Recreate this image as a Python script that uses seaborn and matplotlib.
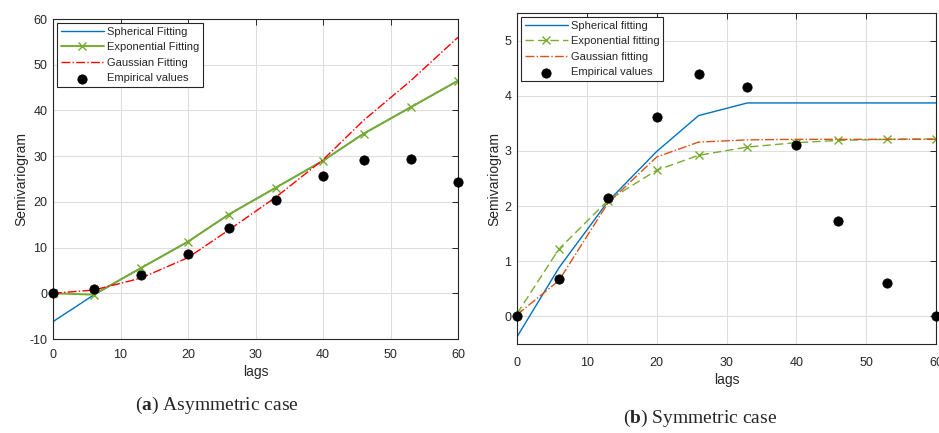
import matplotlib
matplotlib.use("Agg")
import matplotlib.pyplot as plt
import seaborn as sns
import pandas as pd

lags = [0, 6, 13, 20, 26, 33, 40, 46, 53, 60]

# (a) Asymmetric case
a_spherical = [-6.2, -0.4, 5.5, 11.3, 17.2, 23.1, 29.0, 34.9, 40.7, 46.5]
a_exponential = [0.0, -0.3, 5.5, 11.3, 17.2, 23.1, 29.0, 34.9, 40.7, 46.5]
a_gaussian = [0.0, 0.7, 3.3, 7.8, 13.8, 21.0, 29.2, 37.8, 46.5, 56.0]
a_empirical = [0.0, 1.0, 4.0, 8.5, 14.2, 20.3, 25.7, 29.2, 29.4, 24.3]

# (b) Symmetric case
b_spherical = [-0.37, 0.88, 2.08, 2.99, 3.64, 3.87, 3.87, 3.87, 3.87, 3.87]
b_exponential = [0.05, 1.22, 2.10, 2.65, 2.92, 3.07, 3.15, 3.19, 3.21, 3.22]
b_gaussian = [0.03, 0.65, 2.05, 2.89, 3.16, 3.20, 3.21, 3.21, 3.21, 3.21]
b_empirical = [0.0, 0.67, 2.15, 3.62, 4.39, 4.15, 3.10, 1.73, 0.60, 0.0]

a_labels = ["Spherical Fitting", "Exponential Fitting", "Gaussian Fitting", "Empirical values"]
b_labels = ["Spherical fitting", "Exponential fitting", "Gaussian fitting", "Empirical values"]

sns.set_style("white")
plt.rcParams['font.family'] = ['Liberation Sans', 'DejaVu Sans']
plt.rcParams['axes.unicode_minus'] = False
plt.rcParams['mathtext.fontset'] = 'custom'
plt.rcParams['mathtext.rm'] = 'Liberation Serif'
plt.rcParams['mathtext.bf'] = 'Liberation Serif:bold'

BLUE = "#0072BD"
GREEN = "#77AC30"
AXC = "#262626"

fig = plt.figure(figsize=(9.39, 4.33), dpi=100)
axA = fig.add_axes([53/939, 1-339/433, 405/939, 320/433])
axB = fig.add_axes([517/939, 1-344/433, 419/939, 331/433])


def style(ax, pad_x):
    ax.grid(True, color="#dedede", linewidth=0.8)
    ax.set_axisbelow(True)
    for s in ax.spines.values():
        s.set_color(AXC)
        s.set_linewidth(0.8)
        s.set_visible(True)
    ax.tick_params(direction="in", top=True, right=True, length=4, width=0.7,
                   colors=AXC, labelsize=9, labelcolor=AXC)
    ax.tick_params(axis="x", pad=pad_x)
    ax.tick_params(axis="y", pad=4)


def legend(ax):
    leg = ax.legend(loc="upper left", fontsize=8, frameon=True, fancybox=False,
                    edgecolor=AXC, framealpha=1, borderaxespad=0.35,
                    handlelength=3.9, labelspacing=0.5, borderpad=0.35,
                    handletextpad=0.25)
    leg.get_frame().set_linewidth(0.8)


# ---- panel (a)
df_a = pd.DataFrame({"lags": lags, "sph": a_spherical, "exp": a_exponential,
                     "gau": a_gaussian, "emp": a_empirical})
sns.lineplot(data=df_a, x="lags", y="sph", ax=axA, color=BLUE, linewidth=1.0,
             label=a_labels[0])
sns.lineplot(data=df_a, x="lags", y="exp", ax=axA, color=GREEN, linewidth=1.4,
             marker="x", markersize=6, markeredgewidth=1.0, markeredgecolor=GREEN,
             label=a_labels[1])
sns.lineplot(data=df_a, x="lags", y="gau", ax=axA, color="red", linewidth=1.0,
             linestyle="-.", label=a_labels[2])
sns.scatterplot(data=df_a, x="lags", y="emp", ax=axA, color="black", s=45,
                edgecolor="black", zorder=5, label=a_labels[3], clip_on=False)
axA.set_xlim(0, 60)
axA.set_ylim(-10, 60)
axA.set_xticks(range(0, 61, 10))
axA.set_yticks(range(-10, 61, 10))
style(axA, 7)
axA.set_xlabel("lags", fontsize=10, color=AXC, labelpad=3)
axA.set_ylabel("Semivariogram", fontsize=10, color=AXC, labelpad=1)
legend(axA)

# ---- panel (b)
df_b = pd.DataFrame({"lags": lags, "sph": b_spherical, "exp": b_exponential,
                     "gau": b_gaussian, "emp": b_empirical})
sns.lineplot(data=df_b, x="lags", y="sph", ax=axB, color=BLUE, linewidth=1.0,
             label=b_labels[0])
sns.lineplot(data=df_b, x="lags", y="exp", ax=axB, color=GREEN, linewidth=1.0,
             linestyle=(0, (6, 3)), marker="x", markersize=6, markeredgewidth=1.0,
             markeredgecolor=GREEN, label=b_labels[1])
sns.lineplot(data=df_b, x="lags", y="gau", ax=axB, color="#D95319", linewidth=1.0,
             linestyle="-.", label=b_labels[2])
sns.scatterplot(data=df_b, x="lags", y="emp", ax=axB, color="black", s=45,
                edgecolor="black", zorder=5, label=b_labels[3], clip_on=False)
axB.set_xlim(0, 60)
axB.set_ylim(-0.5, 5.5)
axB.set_xticks(range(0, 61, 10))
axB.set_yticks(range(0, 6))
style(axB, 9)
axB.set_xlabel("lags", fontsize=10, color=AXC, labelpad=3)
axB.set_ylabel("Semivariogram", fontsize=10, color=AXC, labelpad=2)
legend(axB)

# captions
fig.text(217/939, 1-405/433, r"($\mathbf{a}$) Asymmetric case", ha="center", va="center",
         fontsize=14, family=["Liberation Serif", "DejaVu Serif"])
fig.text(700/939, 1-418/433, r"($\mathbf{b}$) Symmetric case", ha="center", va="center",
         fontsize=14, family=["Liberation Serif", "DejaVu Serif"])

fig.savefig("out.png", dpi=100)
